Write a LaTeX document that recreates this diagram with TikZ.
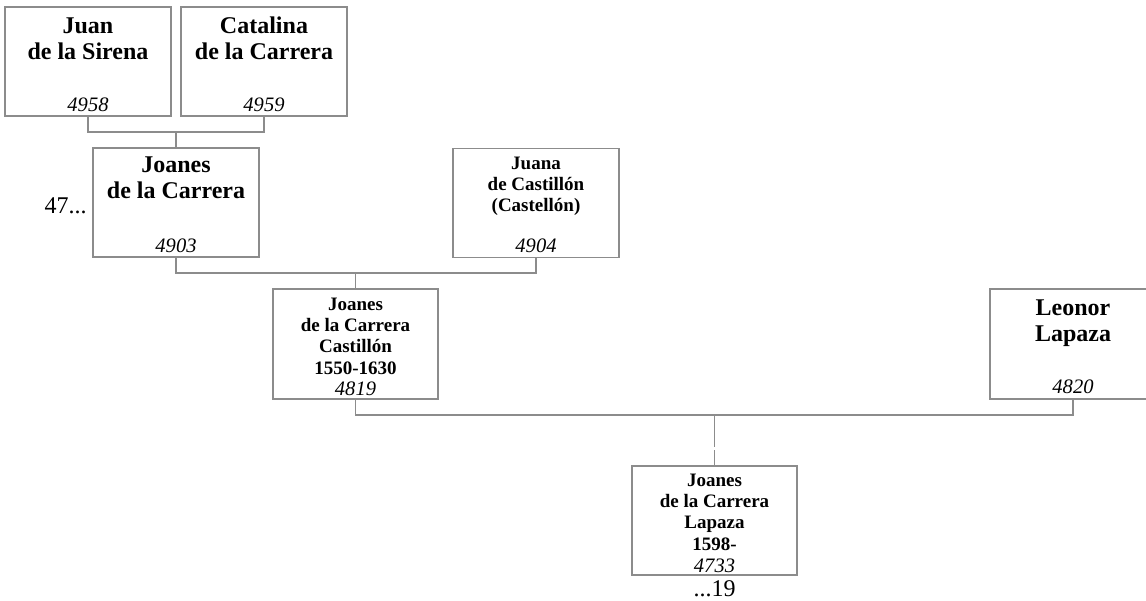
\documentclass[tikz,border=0pt]{standalone}
\usepackage{fontspec}
\setmainfont{Liberation Serif}
\usetikzlibrary{calc}
\definecolor{linegray}{RGB}{140,140,140}
\tikzset{
  box/.style={draw=linegray, line width=0.9pt, fill=white, inner sep=0pt, outer sep=0pt,
              minimum width=124.5pt, minimum height=81.75pt},
  bigname/.style={font=\fontsize{18}{19.5}\selectfont\bfseries, align=center, anchor=base, inner sep=0pt},
  smallname/.style={font=\fontsize{14.25}{15.8}\selectfont\bfseries, align=center, anchor=base, inner sep=0pt},
  idnum/.style={font=\fontsize{15.4}{16}\selectfont\itshape, anchor=base, inner sep=0pt},
  plaintext/.style={font=\fontsize{18}{20}\selectfont, anchor=base, inner sep=0pt},
  conn/.style={draw=linegray, line width=0.9pt}
}
\begin{document}
\begin{tikzpicture}[x=0.75pt,y=-0.75pt]
\useasboundingbox (0,0) rectangle (1146,600);
\clip (0,0) rectangle (1146,600);
% boxes
\node[box] (juan) at (88,61.5) {};
\node[box] (catalina) at (264,61.5) {};
\node[box] (j4903) at (176,202.5) {};
\node[box] (j4904) at (536,203) {};
\node[box, minimum width=123.75pt, minimum height=82.5pt] (j4819) at (355.5,344) {};
\node[box, minimum height=82.5pt] (leonor) at (1073,344) {};
\node[box, minimum width=123.75pt] (j4733) at (714.5,520.5) {};
% texts (anchor base = baseline of the last line)
\node[bigname] (tjuan) at ($(juan.north)+(0,52)$) {Juan\\de la Sirena};
\node[idnum] (njuan) at ($(juan.south)+(0,-5)$) {4958};
\node[bigname] (tcat) at ($(catalina.north)+(0,52)$) {Catalina\\de la Carrera};
\node[idnum] (ncat) at ($(catalina.south)+(0,-5)$) {4959};
\node[bigname] (t4903) at ($(j4903.north)+(0,50)$) {Joanes\\de la Carrera};
\node[idnum] (n4903) at ($(j4903.south)+(0,-5)$) {4903};
\node[plaintext, anchor=base east] (l47) at (87,213) {47...};
\node[smallname] (t4904) at ($(j4904.north)+(0,63)$) {Juana\\de Castillón\\(Castellón)};
\node[idnum] (n4904) at ($(j4904.south)+(0,-5)$) {4904};
\node[smallname] (t4819) at ($(j4819.north)+(0,85)$) {Joanes\\de la Carrera\\Castillón\\1550-1630};
\node[idnum] (n4819) at ($(j4819.south)+(0,-4)$) {4819};
\node[bigname] (tleo) at ($(leonor.north)+(0,52)$) {Leonor\\Lapaza};
\node[idnum] (nleo) at ($(leonor.south)+(0,-6)$) {4820};
\node[smallname] (t4733) at ($(j4733.north)+(0,84)$) {Joanes\\de la Carrera\\Lapaza\\1598-};
\node[idnum] (n4733) at ($(j4733.south)+(0,-3)$) {4733};
\node[plaintext] (l19) at ($(j4733.south)+(0,21)$) {...19};
% connectors
\path (j4903.north) ++(0,-16) coordinate (m1);
\draw[conn] (juan.south) |- (m1) -| (catalina.south);
\draw[conn] (m1) -- (j4903.north);
\path (j4819.north) ++(0,-16) coordinate (m2);
\draw[conn] (j4903.south) |- (m2) -| (j4904.south);
\draw[conn] (m2) -- (j4819.north);
\path (j4733.north) ++(0,-51) coordinate (m3);
\draw[conn] (j4819.south) |- (m3) -| (leonor.south);
\draw[conn] (m3) -- ++(0,32);
\draw[conn] (j4733.north) -- ++(0,-16);
\end{tikzpicture}
\end{document}
